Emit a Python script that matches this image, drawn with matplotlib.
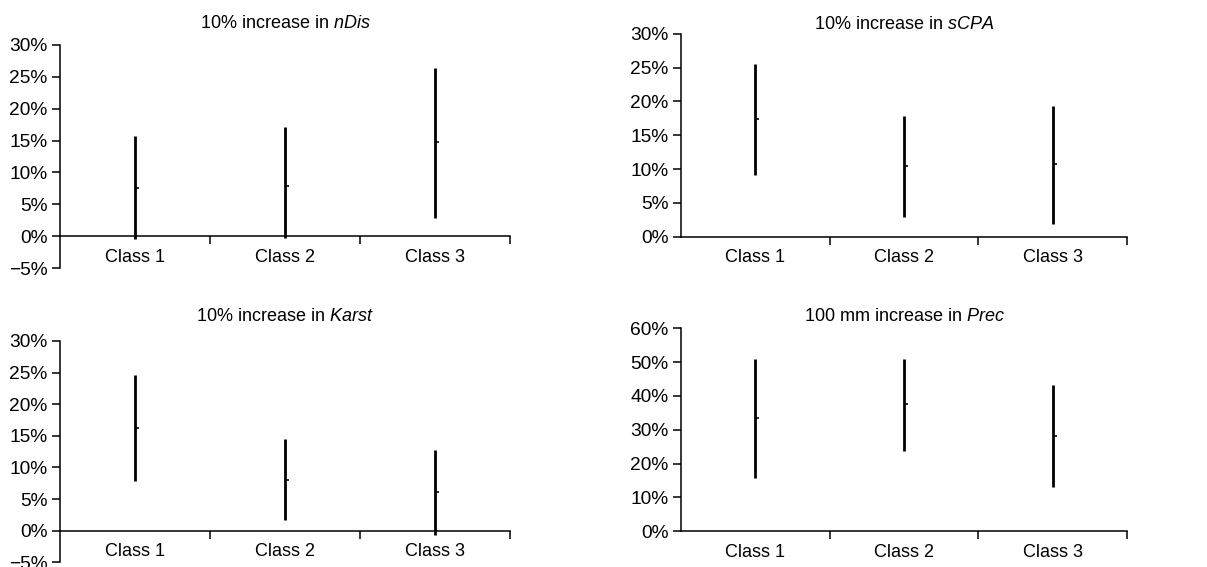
import matplotlib.pyplot as plt
from matplotlib.ticker import FuncFormatter, FixedLocator

plt.rcParams['font.family'] = ['Liberation Sans', 'DejaVu Sans']
plt.rcParams['mathtext.fontset'] = 'custom'
plt.rcParams['mathtext.rm'] = 'Liberation Sans'
plt.rcParams['mathtext.it'] = 'Liberation Sans:italic'

classes = ["Class 1", "Class 2", "Class 3"]

# lower bound, mean, upper bound (% change)
ndis_low = [-0.5, -0.3, 2.9]
ndis_mean = [7.6, 7.9, 14.7]
ndis_high = [15.7, 17.1, 26.4]

scpa_low = [9.1, 2.9, 1.9]
scpa_mean = [17.4, 10.4, 10.7]
scpa_high = [25.5, 17.9, 19.3]

karst_low = [7.8, 1.7, -0.7]
karst_mean = [16.3, 8.0, 6.1]
karst_high = [24.6, 14.5, 12.8]

prec_low = [15.7, 23.6, 13.0]
prec_mean = [33.6, 37.5, 28.2]
prec_high = [50.9, 51.0, 43.1]

panels = [
    ("10% increase in ", "nDis", ndis_low, ndis_mean, ndis_high, (-5, 30), 5,
     [0.0497, 0.527, 0.373, 0.394], 0.959),
    ("10% increase in ", "sCPA", scpa_low, scpa_mean, scpa_high, (0, 30), 5,
     [0.5642, 0.5825, 0.3695, 0.3581], 0.956),
    ("10% increase in ", "Karst", karst_low, karst_mean, karst_high, (-5, 30), 5,
     [0.0497, 0.0083, 0.373, 0.3903], 0.441),
    ("100 mm increase in ", "Prec", prec_low, prec_mean, prec_high, (0, 60), 10,
     [0.5642, 0.063, 0.3695, 0.358], 0.441),
]

fmt = FuncFormatter(lambda v, p: f"{v:.0f}%".replace("-", "\u2212"))

fig = plt.figure(figsize=(12.07, 5.67), dpi=100)

for title, var, lo, mu, hi, ylim, step, rect, ty in panels:
    ax = fig.add_axes(rect)
    x = list(range(1, len(classes) + 1))
    ax.vlines(x, lo, hi, color="black", linewidth=2.0)
    ax.plot(x, mu, linestyle="none", marker=1, markersize=3,
            markeredgewidth=1.2, color="black")
    ax.set_xlim(0.5, 3.5)
    ax.set_ylim(*ylim)
    ax.spines["top"].set_visible(False)
    ax.spines["right"].set_visible(False)
    ax.spines["bottom"].set_position(("data", 0))
    for s in ("left", "bottom"):
        ax.spines[s].set_linewidth(1.1)
    ax.yaxis.set_major_locator(FixedLocator(
        list(range(ylim[0], ylim[1] + 1, step))))
    ax.yaxis.set_major_formatter(fmt)
    ax.xaxis.set_major_locator(FixedLocator([1.5, 2.5, 3.5]))
    ax.xaxis.set_major_formatter(FuncFormatter(lambda v, p: ""))
    ax.xaxis.set_minor_locator(FixedLocator(x))
    ax.xaxis.set_minor_formatter(FuncFormatter(lambda v, p: classes[int(round(v)) - 1]))
    ax.tick_params(axis="x", which="major", direction="out", length=6, width=1.1)
    ax.tick_params(axis="x", which="minor", length=0, pad=9, labelsize=13)
    ax.tick_params(axis="y", direction="out", length=6, width=1.1,
                   labelsize=13.8, pad=3)
    cx = rect[0] + rect[2] / 2
    fig.text(cx, ty, title + r"$\it{" + var + "}$", ha="center", va="center",
             fontsize=13)

fig.savefig("out.png", dpi=100)
